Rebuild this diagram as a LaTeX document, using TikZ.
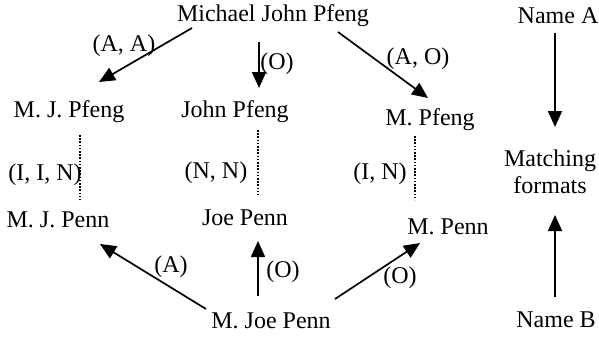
\documentclass[tikz,border=0pt]{standalone}
\usepackage{fontspec}
\setmainfont{Liberation Serif}
\usetikzlibrary{arrows.meta}
\begin{document}
\begin{tikzpicture}[x=1pt,y=-1pt,
  lbl/.style={inner sep=0pt, anchor=base, font=\fontsize{24}{28}\selectfont},
  arr/.style={line width=1.7pt, -{Triangle[length=16pt,width=14pt]}},
  dots/.style={line width=2pt, dash pattern=on 1.6pt off 1.6pt}]
\useasboundingbox (0,0) rectangle (599,337);
% names
\node[lbl] (mjp)  at (273,22)  {Michael John Pfeng};
\node[lbl] (mjpf) at (69,117)  {M. J. Pfeng};
\node[lbl] (jpf)  at (235,117) {John Pfeng};
\node[lbl] (mpf)  at (430,125) {M. Pfeng};
\node[lbl] (mjpn) at (58,227)  {M. J. Penn};
\node[lbl] (jpn)  at (245,225) {Joe Penn};
\node[lbl] (mpn)  at (448,234) {M. Penn};
\node[lbl] (mjo)  at (271,328) {M. Joe Penn};
% legend column
\node[lbl] (na)  at (558,24)  {Name A};
\node[lbl] (mat) at (550,166) {Matching};
\node[lbl] (fmt) at (550,193) {formats};
\node[lbl] (nb)  at (556,327) {Name B};
% edge labels
\node[lbl] (l1) at (124,52)  {(A, A)};
\node[lbl] (l2) at (277,69)  {(O)};
\node[lbl] (l3) at (418,64)  {(A, O)};
\node[lbl] (l4) at (45,180)  {(I, I, N)};
\node[lbl] (l5) at (216,178) {(N, N)};
\node[lbl] (l6) at (380,179) {(I, N)};
\node[lbl] (l7) at (171,272) {(A)};
\node[lbl] (l8) at (283,277) {(O)};
\node[lbl] (l9) at (400,283) {(O)};
% arrows from top name
\draw[arr] ([shift={(-81,6)}]mjp.base) -- ([shift={(30,-35)}]mjpf.base);
\draw[arr] ([shift={(-14,20)}]mjp.base) -- ([shift={(24,-29)}]jpf.base);
\draw[arr] ([shift={(65,10)}]mjp.base) -- ([shift={(-2,-27)}]mpf.base);
% dotted links
\draw[dots] ([shift={(11,18)}]mjpf.base) -- ([shift={(22,-27)}]mjpn.base);
\draw[dots] ([shift={(23,13)}]jpf.base) -- ([shift={(13,-30)}]jpn.base);
\draw[dots] ([shift={(-15,11)}]mpf.base) -- ([shift={(-33,-34)}]mpn.base);
% arrows from bottom name
\draw[arr] ([shift={(-65,-19)}]mjo.base) -- ([shift={(42,17)}]mjpn.base);
\draw[arr] ([shift={(-13,-32)}]mjo.base) -- ([shift={(13,16)}]jpn.base);
\draw[arr] ([shift={(64,-29)}]mjo.base) -- ([shift={(-28,9)}]mpn.base);
% legend arrows
\draw[arr] ([shift={(-3,9)}]na.base) -- ([shift={(5,-39)}]mat.base);
\draw[arr] ([shift={(-1,-30)}]nb.base) -- ([shift={(5,22)}]fmt.base);
\end{tikzpicture}
\end{document}
